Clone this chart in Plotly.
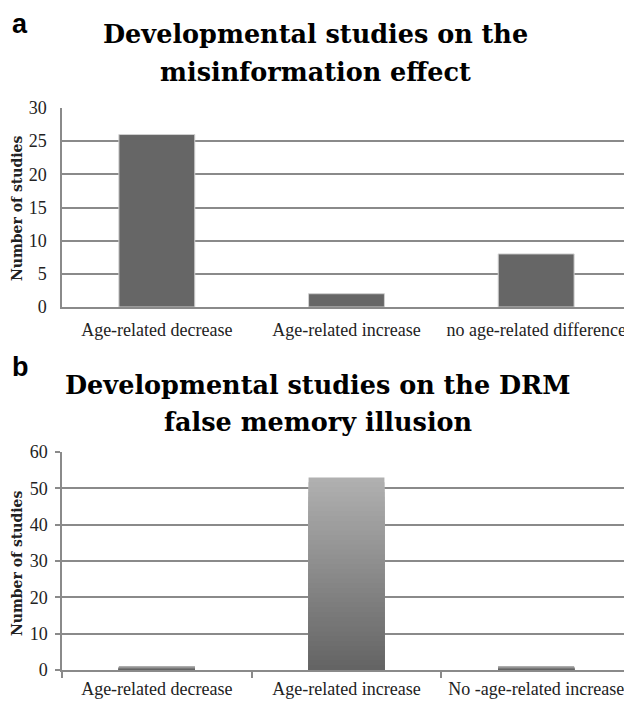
import plotly.graph_objects as go

# Panel a data
cats_a = ["Age-related decrease", "Age-related increase", "no age-related difference"]
vals_a = [26, 2, 8]
title_a = ["Developmental studies on the", "misinformation effect"]

# Panel b data
cats_b = ["Age-related decrease", "Age-related increase", "No -age-related increase"]
vals_b = [1, 53, 1]
title_b = ["Developmental studies on the DRM", "false memory illusion"]

yticks_a = [0, 5, 10, 15, 20, 25, 30]
yticks_b = [0, 10, 20, 30, 40, 50, 60]
ytitle = "Number of studies"

# page has an 8px body margin: figure occupies 8..632 x 8..702 of the window
OFF = 8
W, H = 632 - OFF, 702 - OFF
serif = "Liberation Serif"
tserif = "DejaVu Serif"

def px(x):
    return (x - OFF) / W

def py(y):
    return 1 - (y - OFF) / H

fig = go.Figure()

# Panel a bars
fig.add_trace(go.Bar(x=cats_a, y=vals_a, xaxis="x", yaxis="y",
                     marker=dict(color="#666666", line=dict(color="#d0d0d0", width=1)),
                     width=0.4, showlegend=False))

# Panel b bars with vertical gradient (light top, dark bottom) built from stacked overlays
N = 40
def lerp(a, b, t):
    return int(round(a + (b - a) * t))
for i in range(N):
    frac = (N - i) / N
    t = i / (N - 1)
    g = lerp(176, 100, t)
    col = f"rgb({g},{g},{g})"
    fig.add_trace(go.Bar(x=cats_b, y=[v * frac for v in vals_b], xaxis="x2", yaxis="y2",
                         marker=dict(color=col, line=dict(width=0)),
                         width=0.4, showlegend=False, hoverinfo="skip" if i else None))

grid_col = "#8a8a8a"
xtick_font = dict(family=serif, size=18, color="#222")
ytick_font = dict(family=serif, size=18, color="#222")
ytitle_font = dict(family=tserif, size=14, color="#222")

def ann(text, x, y, font, **kw):
    return dict(text=text, x=px(x), y=py(y), xref="paper", yref="paper", showarrow=False,
                xanchor=kw.pop("xanchor", "center"), yanchor="middle", font=font, **kw)

title_font = dict(family=tserif, size=25.5, color="black")
label_font = dict(family="Liberation Sans", size=27, color="black")

fig.update_layout(
    width=W, height=H,
    margin=dict(l=0, r=0, t=0, b=0),
    paper_bgcolor="white", plot_bgcolor="white",
    barmode="overlay",
    xaxis=dict(domain=[px(62), px(631)], anchor="y", showgrid=False, automargin=False,
               showline=True, linecolor=grid_col, linewidth=1.5, ticks="", tickangle=0,
               tickfont=xtick_font, ticklabelstandoff=6),
    yaxis=dict(domain=[py(307), py(108)], anchor="x", range=[0, 30], automargin=False,
               tickvals=yticks_a, showgrid=True, gridcolor=grid_col, gridwidth=1.5,
               showline=True, linecolor=grid_col, linewidth=1.5, ticks="",
               tickfont=ytick_font, zeroline=False, ticklabelstandoff=10),
    xaxis2=dict(domain=[px(62), px(631)], anchor="y2", showgrid=False, automargin=False,
                showline=True, linecolor=grid_col, linewidth=1.5, tickangle=0,
                ticks="outside", tickson="boundaries", ticklen=6, tickcolor=grid_col, tickwidth=1.5,
                tickfont=xtick_font, ticklabelstandoff=2),
    yaxis2=dict(domain=[py(670), py(452)], anchor="x2", range=[0, 60], automargin=False,
                tickvals=yticks_b, showgrid=True, gridcolor=grid_col, gridwidth=1.5,
                showline=True, linecolor=grid_col, linewidth=1.5,
                ticks="outside", ticklen=5, tickcolor=grid_col, tickwidth=1.5,
                tickfont=ytick_font, zeroline=False, ticklabelstandoff=4),
    annotations=[
        ann("<b>a</b>", 10, 24, label_font, xanchor="left"),
        ann("<b>b</b>", 10, 367, label_font, xanchor="left"),
        ann("<b>" + title_a[0] + "</b>", 315, 34, title_font),
        ann("<b>" + title_a[1] + "</b>", 315, 72, title_font),
        ann("<b>" + title_b[0] + "</b>", 318, 385, title_font),
        ann("<b>" + title_b[1] + "</b>", 318, 422, title_font),
        ann("<b>" + ytitle + "</b>", 17, 208, ytitle_font, textangle=-90),
        ann("<b>" + ytitle + "</b>", 17, 563, ytitle_font, textangle=-90),
    ],
)

fig.write_html("out.html")
